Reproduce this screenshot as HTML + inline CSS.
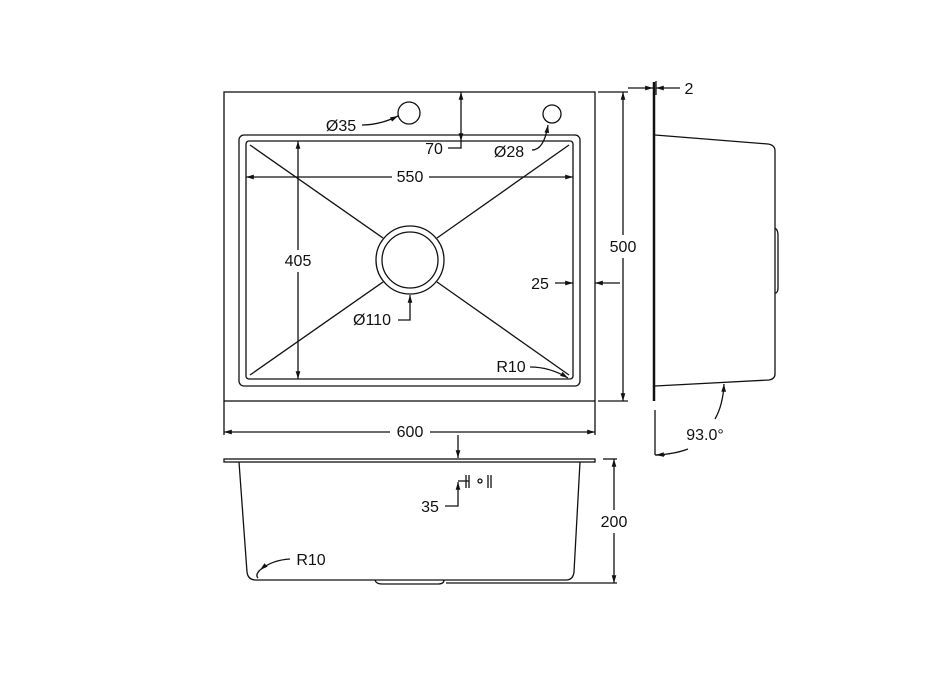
<!DOCTYPE html>
<html><head><style>body{margin:0;background:#fff}svg{display:block}text{font-family:"Liberation Sans",sans-serif;font-size:16px;fill:#111}</style></head><body>
<svg width="930" height="696" viewBox="0 0 930 696" xmlns="http://www.w3.org/2000/svg">
<defs><marker id="a" viewBox="0 0 10 10" refX="10" refY="5" markerWidth="11" markerHeight="6" orient="auto-start-reverse"><path d="M0,2 L10,5 L0,8z" fill="#111"/></marker></defs>
<g fill="none" stroke="#111" stroke-width="1.3">
<rect x="224" y="92" width="371" height="309"/>
<rect x="239" y="135" width="341" height="251" rx="5"/>
<rect x="246" y="141" width="327" height="238" rx="3"/>
<line x1="250" y1="145" x2="383" y2="238"/><line x1="569" y1="145" x2="437" y2="238"/>
<line x1="250" y1="375" x2="383" y2="282"/><line x1="569" y1="375" x2="437" y2="282"/>
<circle cx="410" cy="260" r="34"/><circle cx="410" cy="260" r="28"/>
<circle cx="409" cy="113" r="11"/><circle cx="552" cy="114" r="9"/>
<line x1="461" y1="92" x2="461" y2="141" marker-start="url(#a)" marker-end="url(#a)"/>
<polyline points="448,148 461,148 461,141"/>
<line x1="246" y1="177" x2="392" y2="177" marker-start="url(#a)"/><line x1="429" y1="177" x2="573" y2="177" marker-end="url(#a)"/>
<line x1="298" y1="141" x2="298" y2="250" marker-start="url(#a)"/><line x1="298" y1="272" x2="298" y2="379" marker-end="url(#a)"/>
<line x1="555" y1="283" x2="573" y2="283" marker-end="url(#a)"/><line x1="620" y1="283" x2="595" y2="283" marker-end="url(#a)"/>
<line x1="623" y1="92" x2="623" y2="235" marker-start="url(#a)"/><line x1="623" y1="258" x2="623" y2="401" marker-end="url(#a)"/>
<line x1="598" y1="92" x2="628" y2="92"/><line x1="598" y1="401" x2="628" y2="401"/>
<polyline points="398,320 410,320 410,295" marker-end="url(#a)"/>
<path d="M530,367 Q550,367 568,378" marker-end="url(#a)"/>
<path d="M362,125 Q380,125 398,116" marker-end="url(#a)"/>
<path d="M532,150 Q544,150 548,125" marker-end="url(#a)"/>
<line x1="224" y1="401" x2="224" y2="435"/><line x1="595" y1="401" x2="595" y2="435"/>
<line x1="224" y1="432" x2="390" y2="432" marker-start="url(#a)"/><line x1="430" y1="432" x2="595" y2="432" marker-end="url(#a)"/>
<line x1="458" y1="435" x2="458" y2="458" marker-end="url(#a)"/>
<rect x="224" y="459" width="371" height="3"/>
<path d="M239,462 L247,572 Q248,580 256,580 L566,580 Q573,580 574,572 L580,462"/>
<path d="M375,580 Q376,584 382,584 L438,584 Q444,584 444,580"/>
<line x1="446" y1="583" x2="617" y2="583"/><line x1="603" y1="459" x2="617" y2="459"/>
<line x1="614" y1="459" x2="614" y2="510" marker-start="url(#a)"/><line x1="614" y1="533" x2="614" y2="583" marker-end="url(#a)"/>
<polyline points="445,506 458,506 458,482" marker-end="url(#a)"/><line x1="458" y1="481" x2="466" y2="481"/>
<line x1="466" y1="475" x2="466" y2="488"/><line x1="469" y1="475" x2="469" y2="488"/><line x1="466" y1="481" x2="469" y2="481"/>
<circle cx="480" cy="481" r="2"/>
<line x1="488" y1="475" x2="488" y2="488"/><line x1="491" y1="475" x2="491" y2="488"/>
<path d="M290,559 Q272,560 260,570" marker-end="url(#a)"/>
<path d="M260,570 Q255,575 258,578"/>
<line x1="654" y1="82" x2="654" y2="401" stroke-width="2.5"/>
<line x1="656" y1="81" x2="656" y2="95"/>
<line x1="628" y1="88" x2="653" y2="88" marker-end="url(#a)"/><line x1="680" y1="88" x2="656" y2="88" marker-end="url(#a)"/>
<path d="M655,135 L768,144 Q775,145 775,151 L775,374 Q775,379 769,380 L655,386"/>
<path d="M775,228 Q778,230 778,235 L778,288 Q778,293 775,293"/>
<line x1="655" y1="410" x2="655" y2="455"/><line x1="655" y1="455" x2="665" y2="455"/>
<path d="M688,449 Q675,454 656,455" marker-end="url(#a)"/>
<path d="M715,419 Q723,405 724,384" marker-end="url(#a)"/>
</g>
<g text-anchor="middle">
<text x="341" y="131">Ø35</text><text x="434" y="154">70</text><text x="509" y="157">Ø28</text>
<text x="410" y="182">550</text><text x="298" y="266">405</text><text x="540" y="289">25</text>
<text x="623" y="252">500</text><text x="372" y="325">Ø110</text><text x="511" y="372">R10</text>
<text x="410" y="437">600</text><text x="430" y="512">35</text><text x="614" y="527">200</text>
<text x="311" y="565">R10</text><text x="689" y="94">2</text><text x="705" y="440">93.0°</text>
</g>
</svg>
</body></html>
